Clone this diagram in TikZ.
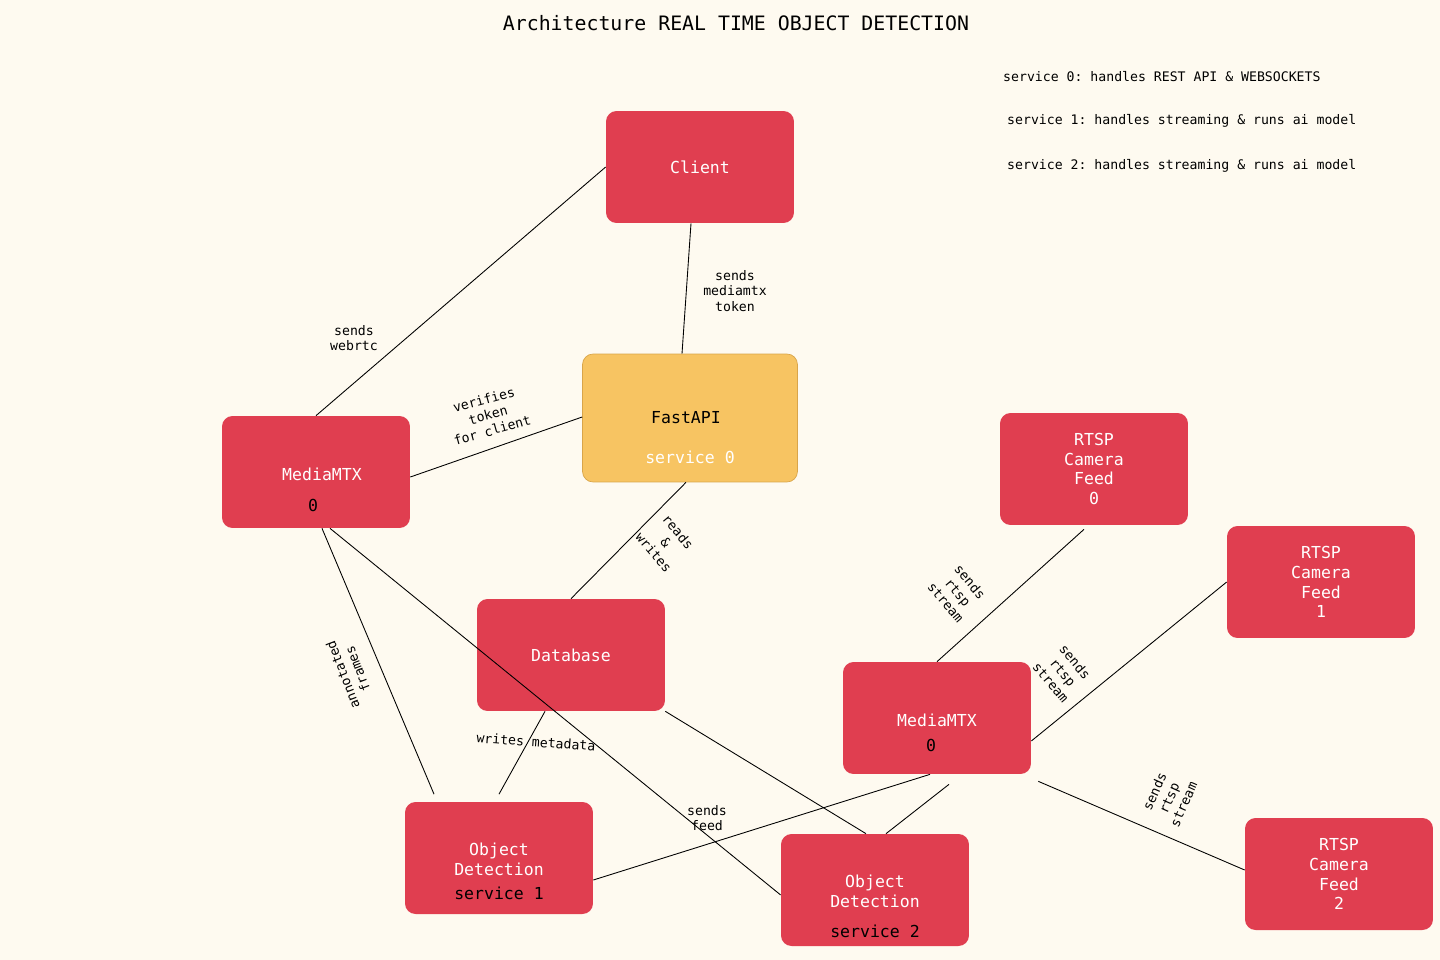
\documentclass[tikz,border=0pt]{standalone}
\usepackage{fontspec}
\setmonofont{DejaVu Sans Mono}
\usetikzlibrary{calc}
\definecolor{bgcol}{HTML}{FEFAF0}
\definecolor{boxred}{HTML}{E03E50}
\definecolor{boxyellow}{HTML}{F7C462}
\definecolor{boxedge}{HTML}{D9A54A}

\begin{document}
\begin{tikzpicture}[x=0.02cm, y=-0.02cm,
        box/.style={fill=boxred, rounded corners=6pt, minimum width=3.76cm, minimum height=2.24cm, align=center, text=white, font=\ttfamily\fontsize{9.4}{11.3}\selectfont},
        apibox/.style={box, fill=boxyellow, draw=boxedge, minimum width=4.3cm, minimum height=2.56cm},
        intext/.style={text=white, inner sep=0pt, align=center, font=\ttfamily\fontsize{9.4}{11.3}\selectfont},
        darktext/.style={intext, text=black},
        link/.style={black, line width=0.5pt},
        lbl/.style={align=center, font=\ttfamily\fontsize{7.5}{9}\selectfont},
        note/.style={anchor=west, font=\ttfamily\fontsize{7.5}{9}\selectfont}
      ]
      \useasboundingbox[fill=bgcol] (0,0) rectangle (1440,960);

      % title and notes
      \node[font=\ttfamily\fontsize{11.3}{13}\selectfont] (title) at (736,23) {Architecture REAL TIME OBJECT DETECTION};
      \node[note] (note0) at (997,77) {service 0: handles REST API \& WEBSOCKETS};
      \node[note] (note1) at (1001,121) {service 1: handles streaming \& runs ai model};
      \node[note] (note2) at (1001,166) {service 2: handles streaming \& runs ai model};

      % services
      \node[box] (Client) at (700,167) {Client};
      \node[apibox] (FastAPI) at (690,418) {};
      \node[darktext] (FastAPIname) at ($(FastAPI)+(-4,0)$) {FastAPI};
      \node[intext] (FastAPIsvc) at ($(FastAPI)+(0,39)$) {service 0};
      \node[box] (MediaMTXA) at (316,472) {};
      \node[intext] (MediaMTXAname) at ($(MediaMTXA)+(6,2)$) {MediaMTX};
      \node[darktext] (MediaMTXAnum) at ($(MediaMTXA)+(-3,33)$) {0};
      \node[box] (Database) at (571,655) {Database};
      \node[box] (MediaMTXB) at (937,718) {};
      \node[intext] (MediaMTXBname) at ($(MediaMTXB)+(0,2)$) {MediaMTX};
      \node[darktext] (MediaMTXBnum) at ($(MediaMTXB)+(-6,27)$) {0};
      \node[box] (DetectOne) at (499,858) {};
      \node[intext] (DetectOnename) at ($(DetectOne)+(0,1)$) {Object\\Detection};
      \node[darktext] (DetectOnesvc) at ($(DetectOne)+(0,35)$) {service 1};
      \node[box] (DetectTwo) at (875,890) {};
      \node[intext] (DetectTwoname) at ($(DetectTwo)+(0,1)$) {Object\\Detection};
      \node[darktext] (DetectTwosvc) at ($(DetectTwo)+(0,41)$) {service 2};

      % cameras
      \node[box] (CamA) at (1094,469) {RTSP\\Camera\\Feed\\0};
      \node[box] (CamB) at (1321,582) {RTSP\\Camera\\Feed\\1};
      \node[box] (CamC) at (1339,874) {RTSP\\Camera\\Feed\\2};

      % connections
      \draw[link] (Client.west) -- (MediaMTXA.north);
      \node[lbl] (lwebrtc) at (354,338) {sends\\webrtc};
      \draw[link] ([xshift=-0.18cm]Client.south) -- ([xshift=-0.16cm]FastAPI.north);
      \node[lbl] (ltoken) at (735,291) {sends\\mediamtx\\token};
      \draw[link] ([yshift=-0.1cm]MediaMTXA.east) -- ([yshift=0.02cm]FastAPI.west);
      \node[lbl, rotate=15.5] (lverify) at (488,415) {verifies\\token\\for client};
      \draw[link] ([xshift=-0.08cm]FastAPI.south) -- (Database.north);
      \node[lbl, rotate=-50] (lreads) at (666,542) {reads\\\&\\writes};
      \draw[link] ([xshift=0.12cm]MediaMTXA.south) -- ([xshift=-1.3cm,yshift=0.15cm]DetectOne.north);
      \node[lbl, rotate=111] (lframes) at (350,672) {annotated\\frames};
      \draw[link] ([xshift=0.28cm]MediaMTXA.south) -- ([yshift=-0.1cm]DetectTwo.west);
      \node[lbl] (lfeed) at (707,818) {sends\\feed};
      \draw[link] ([xshift=-0.52cm]Database.south) -- ([yshift=0.15cm]DetectOne.north);
      \node[lbl, rotate=-4] (lmeta) at (536,742) {writes metadata};
      \draw[link] (Database.south east) -- ([xshift=-0.18cm]DetectTwo.north);
      \draw[link] ([xshift=-0.2cm,yshift=-0.08cm]CamA.south) -- (MediaMTXB.north);
      \node[lbl, rotate=-50] (lrtspa) at (958,592) {sends\\rtsp\\stream};
      \draw[link] (CamB.west) -- ([yshift=-0.46cm]MediaMTXB.east);
      \node[lbl, rotate=-50] (lrtspb) at (1063,672) {sends\\rtsp\\stream};
      \draw[link] ([xshift=0.14cm,yshift=-0.14cm]MediaMTXB.south east) -- ([yshift=0.08cm]CamC.west);
      \node[lbl, rotate=66] (lrtspc) at (1169,798) {sends\\rtsp\\stream};
      \draw[link] ([xshift=-0.14cm]MediaMTXB.south) -- ([yshift=-0.44cm]DetectOne.east);
      \draw[link] ([xshift=0.24cm,yshift=-0.2cm]MediaMTXB.south) -- ([xshift=0.22cm]DetectTwo.north);
      \end{tikzpicture}
\end{document}
